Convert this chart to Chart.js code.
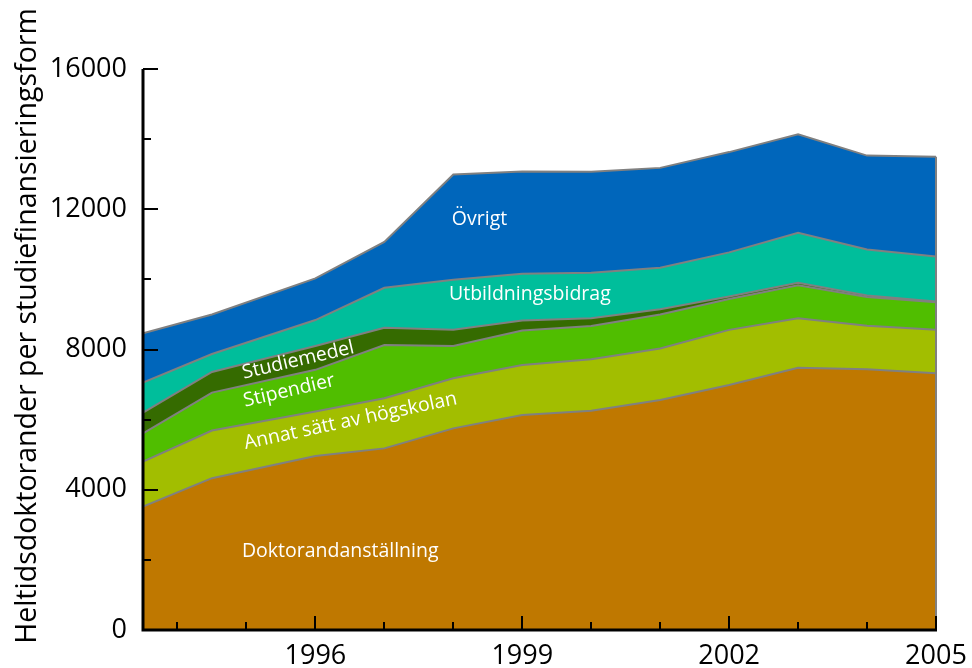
<!DOCTYPE html>
<html lang="sv">
<head>
<meta charset="UTF-8">
<title>Heltidsdoktorander per studiefinansieringsform</title>
<script src="https://cdn.jsdelivr.net/npm/chart.js"></script>
<style>
  html, body { margin: 0; padding: 0; background: #fff; }
  #wrap { width: 972px; height: 668px; position: relative; }
</style>
</head>
<body>
<div id="wrap"><canvas id="chart"></canvas></div>
<script>
  // läsåren 93/94 och 94/95, sedan kalenderår
  const years = [1993.5, 1994.5, 1996, 1997, 1998, 1999, 2000, 2001, 2002, 2003, 2004, 2005];
  const doktorand   = [3520, 4330, 4960, 5180, 5750, 6130, 6250, 6560, 6990, 7480, 7440, 7320];
  const annat       = [1280, 1360, 1270, 1430, 1430, 1430, 1470, 1470, 1570, 1410, 1240, 1240];
  const stipendier  = [810, 1080, 1190, 1520, 920, 980, 950, 970, 880, 940, 820, 790];
  const studiemedel = [590, 590, 680, 490, 460, 290, 220, 150, 70, 70, 40, 20];
  const utbildning  = [860, 510, 740, 1140, 1430, 1330, 1300, 1180, 1260, 1430, 1310, 1280];
  const ovrigt      = [1400, 1130, 1190, 1310, 3000, 2920, 2880, 2850, 2860, 2810, 2680, 2850];

  const tickYears  = [1994, 1995, 1996, 1997, 1998, 1999, 2000, 2001, 2002, 2003, 2004, 2005];
  const labelYears = [1996, 1999, 2002, 2005];

  const seriesNames  = ['Doktorandanställning', 'Annat sätt av högskolan', 'Stipendier', 'Studiemedel', 'Utbildningsbidrag', 'Övrigt'];
  const seriesValues = [doktorand, annat, stipendier, studiemedel, utbildning, ovrigt];
  const colors = ['#bf7800', '#a2be00', '#50be00', '#356b00', '#00be9b', '#0066bb'];

  // textetiketter i diagrammet (x = år, y = värde, vinkel i grader)
  const areaLabels = [
    { text: 'Övrigt', x: 1998.38, y: 11700, rot: 0 },
    { text: 'Utbildningsbidrag', x: 1999.11, y: 9580, rot: 0 },
    { text: 'Studiemedel', x: 1995.75, y: 7690, rot: -13 },
    { text: 'Stipendier', x: 1995.62, y: 6820, rot: -13 },
    { text: 'Annat sätt av högskolan', x: 1996.51, y: 5960, rot: -12 },
    { text: 'Doktorandanställning', x: 1996.36, y: 2230, rot: 0 }
  ];

  const FONT = '"Open Sans", "DejaVu Sans", sans-serif';

  const datasets = seriesValues.map((vals, i) => ({
    label: seriesNames[i],
    data: vals.map((v, j) => ({ x: years[j], y: v })),
    backgroundColor: colors[i],
    borderColor: '#808080',
    borderWidth: 2,
    pointRadius: 0,
    tension: 0,
    fill: i === 0 ? 'origin' : '-1'
  }));

  const decor = {
    id: 'decor',
    afterDatasetsDraw(chart) {
      const { ctx, chartArea: a, scales: { x, y } } = chart;
      ctx.save();

      // höger kant av ytan
      const last = years.length - 1;
      const total = seriesValues.reduce((s, arr) => s + arr[last], 0);
      ctx.strokeStyle = '#808080';
      ctx.lineWidth = 2;
      ctx.beginPath();
      ctx.moveTo(x.getPixelForValue(years[last]), y.getPixelForValue(total));
      ctx.lineTo(x.getPixelForValue(years[last]), a.bottom);
      ctx.stroke();

      // etiketter
      ctx.fillStyle = '#fff';
      ctx.font = '19.5px ' + FONT;
      ctx.textAlign = 'center';
      ctx.textBaseline = 'middle';
      areaLabels.forEach(l => {
        ctx.save();
        ctx.translate(x.getPixelForValue(l.x), y.getPixelForValue(l.y));
        ctx.rotate(l.rot * Math.PI / 180);
        ctx.fillText(l.text, 0, 0);
        ctx.restore();
      });

      // axlar med inåtriktade streck
      ctx.strokeStyle = '#000';
      ctx.lineWidth = 3;
      ctx.beginPath();
      ctx.moveTo(a.left, a.top);
      ctx.lineTo(a.left, a.bottom);
      ctx.lineTo(a.right + 1, a.bottom);
      ctx.stroke();

      ctx.lineWidth = 2;
      ctx.beginPath();
      y.ticks.forEach(t => {
        const py = Math.round(y.getPixelForValue(t.value));
        const len = t.value % 4000 === 0 ? 15 : 8;
        if (t.value === 0) return;
        ctx.moveTo(a.left, py);
        ctx.lineTo(a.left + len, py);
      });
      x.ticks.forEach(t => {
        const px = Math.round(x.getPixelForValue(t.value));
        const len = labelYears.includes(t.value) ? 14 : 8;
        ctx.moveTo(px, a.bottom);
        ctx.lineTo(px, a.bottom - len);
      });
      ctx.stroke();

      // y-axelns titel
      ctx.fillStyle = '#000';
      ctx.font = '28.5px ' + FONT;
      ctx.translate(28, 326);
      ctx.rotate(-Math.PI / 2);
      ctx.fillText('Heltidsdoktorander per studiefinansieringsform', 0, 0);
      ctx.restore();
    }
  };

  new Chart(document.getElementById('chart'), {
    type: 'line',
    data: { datasets },
    options: {
      responsive: true,
      maintainAspectRatio: false,
      animation: false,
      layout: { padding: { top: 69, right: 36, left: 0, bottom: 0 } },
      plugins: { legend: { display: false }, tooltip: { enabled: false } },
      scales: {
        x: {
          type: 'linear',
          min: years[0],
          max: years[years.length - 1],
          afterBuildTicks: s => { s.ticks = tickYears.map(v => ({ value: v })); },
          afterFit: s => { s.height = 38; s.paddingRight = 0; s.paddingLeft = 0; },
          grid: { display: false, drawTicks: false },
          border: { display: false },
          ticks: {
            autoSkip: false,
            maxRotation: 0,
            padding: 10,
            color: '#000',
            font: { family: FONT, size: 27 },
            callback: v => labelYears.includes(v) ? String(v) : ''
          }
        },
        y: {
          stacked: true,
          min: 0,
          max: 16000,
          afterFit: s => { s.width = 143; },
          grid: { display: false, drawTicks: false },
          border: { display: false },
          ticks: {
            stepSize: 1000,
            padding: 16,
            color: '#000',
            font: { family: FONT, size: 27 },
            callback: v => v % 4000 === 0 ? String(v) : ''
          }
        }
      }
    },
    plugins: [decor]
  });
</script>
</body>
</html>
